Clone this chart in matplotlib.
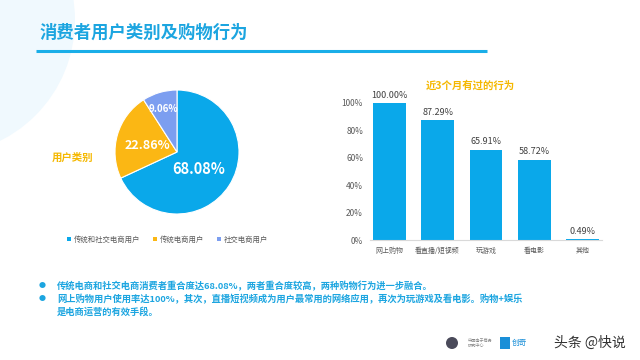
import matplotlib
matplotlib.use("Agg")
import matplotlib.pyplot as plt
from matplotlib.patches import Circle, Rectangle

plt.rcParams['font.family'] = ['Noto Sans CJK SC', 'DejaVu Sans']

# ---- data ----
pie_labels = ['传统和社交电商用户', '传统电商用户', '社交电商用户']
pie_values = [68.08, 22.86, 9.06]
pie_colors = ['#0aa8ea', '#fbb714', '#7c9ef0']

bar_labels = ['网上购物', '看直播/短视频', '玩游戏', '看电影', '其他']
bar_values = [100.00, 87.29, 65.91, 58.72, 0.49]
y_ticks = [0, 20, 40, 60, 80, 100]

title = '消费者用户类别及购物行为'
pie_title = '用户类别'
bar_title = '近3个月有过的行为'
notes = [
    '传统电商和社交电商消费者重合度达68.08%，两者重合度较高，两种购物行为进一步融合。',
    '网上购物用户使用率达100%，其次，直播短视频成为用户最常用的网络应用，再次为玩游戏及看电影。购物+娱乐',
    '是电商运营的有效手段。',
]

W, H = 640, 360
BLUE = '#1ca5e0'
GOLD = '#f5b800'

fig = plt.figure(figsize=(6.4, 3.6), dpi=100)
fig.patch.set_facecolor('white')


def fx(x):
    return x / W


def fy(y):
    return 1 - y / H


# light background blob top-left
bg = fig.add_axes([0, 0, 1, 1])
bg.set_xlim(0, W)
bg.set_ylim(H, 0)
bg.axis('off')
bg.add_patch(Circle((-60, 20), 135, color='#f0f9fe', lw=0))

# header
fig.text(fx(40), fy(33), title, fontsize=12.5, fontweight='bold', color=BLUE,
         ha='left', va='center')
bg.plot([36, 487], [51, 51], color='#1aaee8', lw=2.2, solid_capstyle='butt')

# ---- pie ----
cx, cy, r = 177, 152, 62
pax = fig.add_axes([fx(cx - r), fy(cy + r), 2 * r / W, 2 * r / H])
pax.pie(pie_values, colors=pie_colors, startangle=90, counterclock=False,
        wedgeprops=dict(edgecolor='white', linewidth=0.8))
pax.set_xlim(-1, 1)
pax.set_ylim(-1, 1)
pax.set_aspect('equal')
label_pos = [(0.35, -0.27), (-0.48, 0.11), (-0.22, 0.69)]
label_size = [10.5, 9, 7]
for v, (lx, ly), s in zip(pie_values, label_pos, label_size):
    pax.text(lx, ly, f'{v:.2f}%', ha='center', va='center', color='white',
             fontsize=s, fontweight='bold')

fig.text(fx(72), fy(158), pie_title, fontsize=7.5, fontweight='bold', color=GOLD,
         ha='center', va='center')

# legend
leg_x = [69, 155, 219]
for x, lab, c in zip(leg_x, pie_labels, pie_colors):
    bg.add_patch(Rectangle((x - 2, 237), 4, 4, color=c, lw=0))
    bg.text(x + 5, 239.5, lab, fontsize=5.3, color='#595959', ha='left', va='center')

# ---- bars ----
bax = fig.add_axes([fx(370), fy(240), (602 - 370) / W, (240 - 103) / H])
xs = range(len(bar_values))
bax.bar(xs, bar_values, width=0.68, color='#0aa8ea')
bax.set_xlim(-0.4, 4.4)
bax.set_ylim(0, 100)
bax.set_yticks(y_ticks)
bax.set_yticklabels([f'{t}%' for t in y_ticks], fontsize=6, color='#595959')
bax.set_xticks(list(xs))
bax.set_xticklabels(bar_labels, fontsize=5, color='#595959')
bax.tick_params(length=0, pad=5)
for side in ['top', 'right', 'left']:
    bax.spines[side].set_visible(False)
bax.spines['bottom'].set_color('#d9d9d9')
bax.spines['bottom'].set_linewidth(0.8)
bax.patch.set_alpha(0)
for x, v in zip(xs, bar_values):
    bax.text(x, v + 2.5, f'{v:.2f}%', ha='center', va='bottom', fontsize=6.5,
             color='#404040', clip_on=False)

fig.text(fx(470), fy(86), bar_title, fontsize=7.5, fontweight='bold', color=GOLD,
         ha='center', va='center')

# ---- notes ----
note_y = [286, 299, 312]
for i, (txt, y) in enumerate(zip(notes, note_y)):
    if i < 2:
        fig.text(fx(42), fy(y), '●', fontsize=5, color=BLUE, ha='center', va='center')
    fig.text(fx(57), fy(y), txt, fontsize=6.7, fontweight='bold', color=BLUE,
             ha='left', va='center')

# footer marks
bg.add_patch(Circle((452, 343), 6, color='#4a4a5a', lw=0))
bg.text(468, 343, '中国电子商务\n研究中心', fontsize=3, color='#888888', ha='left', va='center')
bg.add_patch(Rectangle((500, 337), 10, 12, color='#1a8fd8', lw=0))
bg.text(512, 343, '创奇', fontsize=5.5, color='#1a8fd8', ha='left', va='center')
bg.text(590, 343, '头条 @快说', fontsize=10, color='#333333', ha='center', va='center')

fig.savefig('out.png', dpi=100)
